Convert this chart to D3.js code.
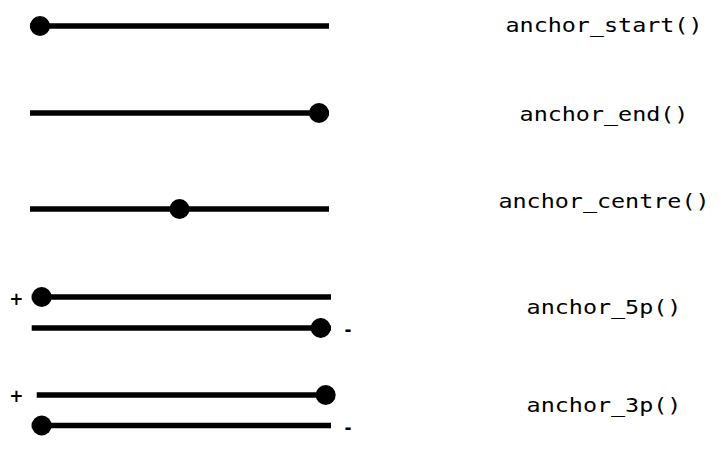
<!DOCTYPE html>
<html>
<head>
<meta charset="utf-8">
<script src="https://cdn.jsdelivr.net/npm/d3@7"></script>
<style>
  body { margin: 0; background: #fff; }
  svg { display: block; }
</style>
</head>
<body>
<svg id="chart" width="718" height="452"></svg>
<script>
// anchor names shown on the right
const labels = ["anchor_start()", "anchor_end()", "anchor_centre()", "anchor_5p()", "anchor_3p()"];
const labelLevel = [32, 121, 208, 314, 412];

// one entry per segment (rows 4 and 5 carry two strands)
const segFrom  = [0, 0, 0, 1.7, 1.7, 6.7, 1.7];
const segTo    = [299, 299, 299, 301, 301, 296, 301];
const segDot   = [10, 289, 149.5, 11.7, 290.7, 295.7, 11.7];
const segLevel = [26, 113, 209, 297, 328, 395, 425.5];

// strand signs
const signText  = ["+", "-", "+", "-"];
const signAt    = [-13.7, 318, -13.7, 318];
const signLevel = [298.7, 329.7, 396.3, 427.7];

const svg = d3.select("#chart");
const width = 718, height = 452;

const x = d3.scaleLinear().domain([0, 299]).range([30, 329]);
const y = d3.scaleLinear().domain([0, height]).range([0, height]);

const segs = segFrom.map((f, i) => ({ from: f, to: segTo[i], dot: segDot[i], level: segLevel[i] }));

svg.selectAll(".seg")
    .data(segs)
    .enter().append("line")
    .attr("class", "seg")
    .attr("x1", d => x(d.from))
    .attr("x2", d => x(d.to))
    .attr("y1", d => y(d.level))
    .attr("y2", d => y(d.level))
    .attr("stroke", "#000")
    .attr("stroke-width", 5.5);

svg.selectAll(".dot")
    .data(segs)
    .enter().append("circle")
    .attr("class", "dot")
    .attr("cx", d => x(d.dot))
    .attr("cy", d => y(d.level))
    .attr("r", 10)
    .attr("fill", "#000");

svg.selectAll(".sign")
    .data(signText)
    .enter().append("text")
    .attr("class", "sign")
    .attr("x", (d, i) => x(signAt[i]))
    .attr("y", (d, i) => y(signLevel[i]))
    .attr("text-anchor", "middle")
    .attr("dominant-baseline", "central")
    .style("font-family", "'DejaVu Sans', sans-serif")
    .style("font-weight", "bold")
    .style("font-size", "17px")
    .text(d => d);

svg.selectAll(".label")
    .data(labels)
    .enter().append("text")
    .attr("class", "label")
    .attr("transform", (d, i) => `translate(604, ${y(labelLevel[i])}) scale(1.2, 1)`)
    .attr("text-anchor", "middle")
    .style("font-family", "'DejaVu Sans Mono', monospace")
    .style("font-size", "19.5px")
    .style("fill", "#000")
    .text(d => d);
</script>
</body>
</html>
